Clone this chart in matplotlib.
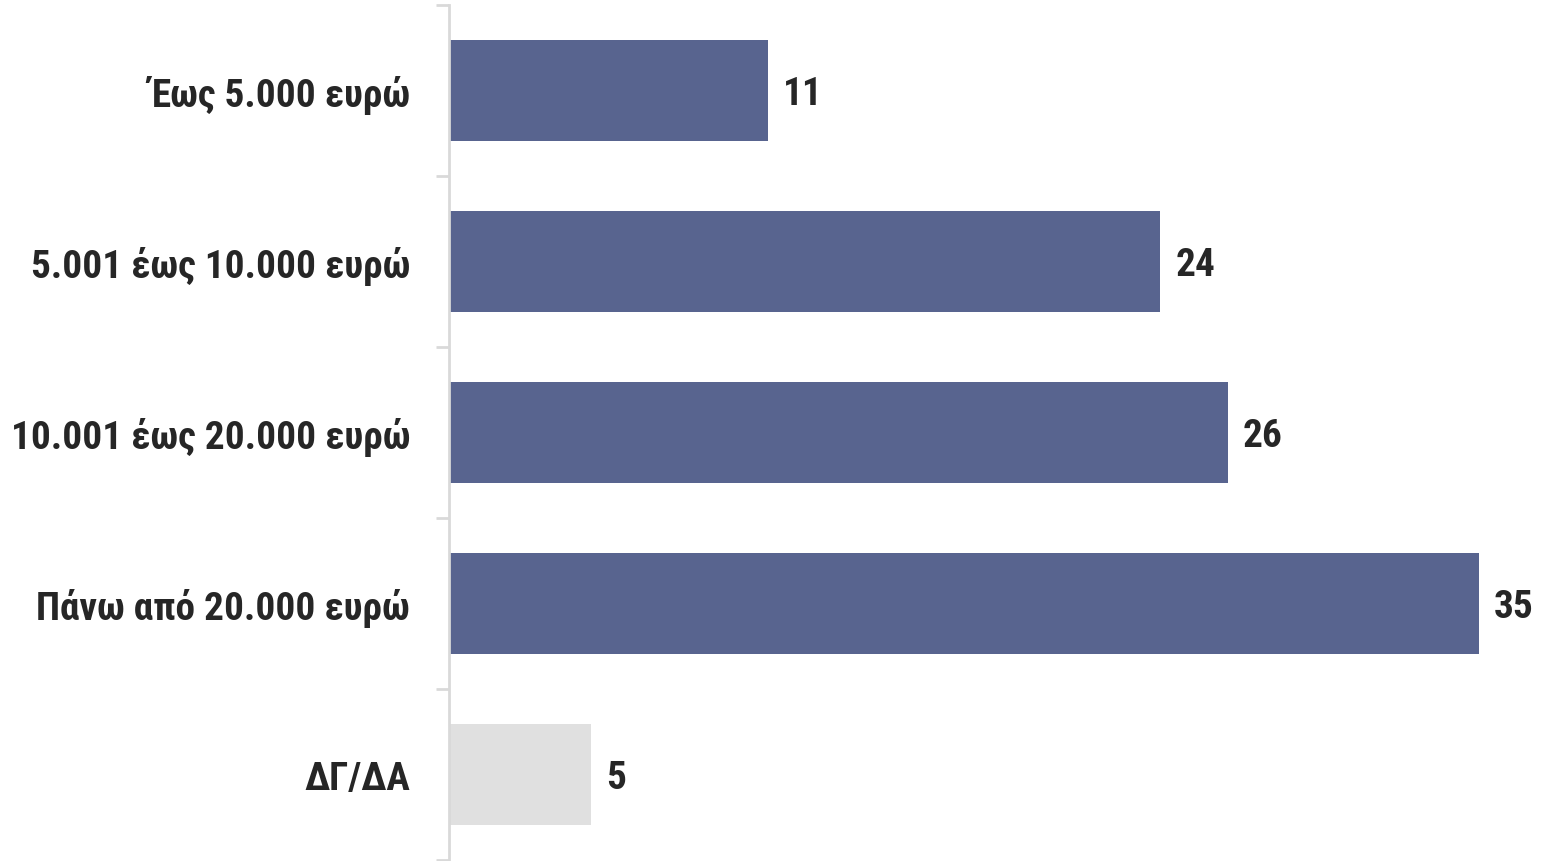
import matplotlib
matplotlib.use("Agg")
import matplotlib.pyplot as plt
from matplotlib import font_manager
import numpy as np

categories = ["Έως 5.000 ευρώ", "5.001 έως 10.000 ευρώ", "10.001 έως 20.000 ευρώ",
              "Πάνω από 20.000 ευρώ", "ΔΓ/ΔΑ"]
values = [10.8, 24.1, 26.4, 34.9, 4.8]
labels = ["11", "24", "26", "35", "5"]
colors = ["#58648F", "#58648F", "#58648F", "#58648F", "#E0E0E0"]

names = {f.name for f in font_manager.fontManager.ttflist}
fam = None
for cand in ["Arial Narrow", "Liberation Sans Narrow", "Roboto Condensed", "Fira Sans Condensed"]:
    if cand in names:
        fam = cand
        break
if fam is None:
    fam = "DejaVu Sans"
plt.rcParams["font.family"] = [fam, "DejaVu Sans"]

W, H = 1545, 862
fig = plt.figure(figsize=(W / 100, H / 100), dpi=100)
left_px, right_px, top_px, bot_px = 449, 1545, 6, 1
ax = fig.add_axes([left_px / W, bot_px / H, (right_px - left_px) / W, (H - top_px - bot_px) / H])

y = np.arange(len(categories))
ax.barh(y, values, height=0.585, color=colors, left=0)
ax.set_ylim(len(categories) - 0.5, -0.5)
ax.set_xlim(0, (right_px - left_px) / 29.5)

for s in ["top", "right", "bottom"]:
    ax.spines[s].set_visible(False)
ax.spines["left"].set_color("#D9D9D9")
ax.spines["left"].set_linewidth(2)
ax.set_xticks([])

ax.set_yticks(y)
ax.set_yticklabels(categories, fontsize=28.3, fontweight="bold", color="#262626")
ax.tick_params(axis="y", which="major", length=0, pad=28)
ax.set_yticks(np.arange(-0.5, len(categories) + 0.5, 1), minor=True)
ax.tick_params(axis="y", which="minor", length=9.4, width=2, color="#D9D9D9")

for yi, v, lab in zip(y, values, labels):
    ax.annotate(lab, xy=(v, yi), xytext=(11, -2.5), textcoords="offset points",
                ha="left", va="center", fontsize=28.3, fontweight="bold", color="#262626")

fig.savefig("out.png", dpi=100, facecolor="white")
